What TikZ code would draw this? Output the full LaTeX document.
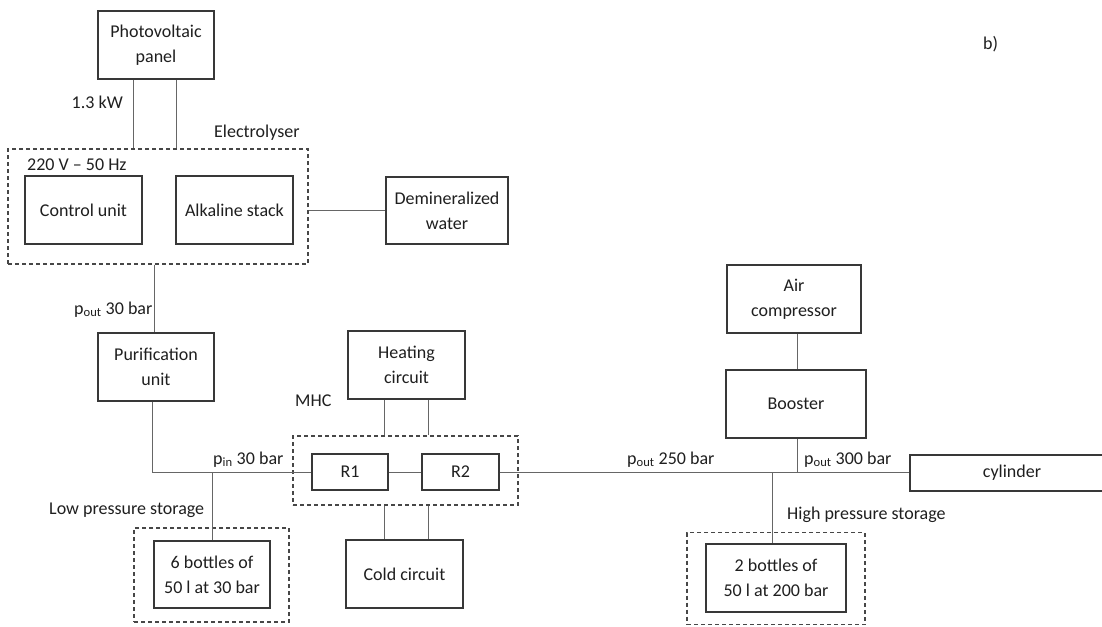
\documentclass[tikz,border=0pt]{standalone}
\usepackage{fontspec}
\setmainfont{Carlito}
\begin{document}
\begin{tikzpicture}[x=1pt,y=-1pt,
  font=\fontsize{18}{25}\selectfont,
  txt/.style={text=black!88},
  unit/.style={draw=black!78,line width=1.2pt,rectangle,align=center,inner sep=2pt,txt},
  group/.style={draw=black!72,line width=1.2pt,dash pattern=on 4pt off 3pt,rectangle,inner sep=0pt},
  pipe/.style={draw=black!60,line width=0.9pt},
  lbl/.style={inner sep=0pt,txt}]
\useasboundingbox (0,0) rectangle (1102,626);
\clip (0,0) rectangle (1102,626);
\fill[white] (0,0) rectangle (1102,626);

% units
\node[unit,minimum width=116,minimum height=68] (pv) at (156,45) {Photovoltaic\\panel};
\node[group,minimum width=300,minimum height=115] (elec) at (158,206.5) {};
\node[unit,minimum width=117,minimum height=68] (ctrl) at (83.5,210) {Control unit};
\node[unit,minimum width=117,minimum height=68] (alk) at (234.5,210) {Alkaline stack};
\node[unit,minimum width=122,minimum height=67] (demin) at (447,210.5) {Demineralized\\water};
\node[unit,minimum width=116,minimum height=68] (pur) at (156,367) {Purification\\unit};
\node[unit,minimum width=117,minimum height=68] (heat) at (406.5,365) {Heating\\circuit};
\node[group,minimum width=225,minimum height=69] (mhc) at (405.5,470.5) {};
\node[unit,minimum width=76,minimum height=36] (r1) at (350,472) {R1};
\node[unit,minimum width=77,minimum height=36] (r2) at (460.5,472) {R2};
\node[unit,minimum width=117,minimum height=68] (cold) at (404.5,574) {Cold circuit};
\node[group,minimum width=155,minimum height=94] (low) at (211.5,575) {};
\node[unit,minimum width=116,minimum height=67] (six) at (212,574.5) {6 bottles of\\50 l at 30 bar};
\node[unit,minimum width=134,minimum height=68] (air) at (794,299) {Air\\compressor};
\node[unit,minimum width=140,minimum height=68] (boost) at (796,404) {Booster};
\node[unit,minimum width=204,minimum height=36] (cyl) at (1012,473) {cylinder};
\node[group,minimum width=178,minimum height=92] (high) at (776,578.5) {};
\node[unit,minimum width=140,minimum height=68] (two) at (776,578) {2 bottles of\\50 l at 200 bar};

% connections
\draw[pipe] ([xshift=-23pt]pv.south) -- ([xshift=-23pt]pv.south |- elec.north);
\draw[pipe] ([xshift=20pt]pv.south) -- ([xshift=20pt]pv.south |- elec.north);
\draw[pipe] (elec.east |- demin.west) -- (demin.west);
\draw[pipe] ([xshift=-2pt]pur.north |- elec.south) -- ([xshift=-2pt]pur.north);
\draw[pipe] ([xshift=-4pt]pur.south) |- (r1.west);
\draw[pipe] (six.north |- r1.west) -- (six.north);
\draw[pipe] (r1.east) -- (r2.west);
\draw[pipe] ([xshift=-22pt]heat.south) -- ([xshift=-22pt]heat.south |- mhc.north);
\draw[pipe] ([xshift=21.5pt]heat.south) -- ([xshift=21.5pt]heat.south |- mhc.north);
\draw[pipe] ([xshift=-22pt]heat.south |- mhc.south) -- ([xshift=-22pt]heat.south |- cold.north);
\draw[pipe] ([xshift=21.5pt]heat.south |- mhc.south) -- ([xshift=21.5pt]heat.south |- cold.north);
\draw[pipe] (r2.east) -- (r2.east -| cyl.west);
\draw[pipe] ([xshift=1pt]boost.north) -- ([xshift=1pt]boost.north |- air.south);
\draw[pipe] ([xshift=1pt]boost.south) -- ([xshift=1pt]boost.south |- r2.east);
\draw[pipe] ([xshift=-4pt]two.north |- r2.east) -- ([xshift=-4pt]two.north);

% labels
\node[lbl,anchor=base east] (lkw) at (123,108) {1.3 kW};
\node[lbl,anchor=base west] (lel) at (214,137) {Electrolyser};
\node[lbl,anchor=base west] (lac) at (27,170) {220 V – 50 Hz};
\node[lbl,anchor=base west] (lp1) at (74,314) {p\textsubscript{out} 30 bar};
\node[lbl,anchor=base west] (lp2) at (213,464) {p\textsubscript{in} 30 bar};
\node[lbl,anchor=base west] (llow) at (49,514) {Low pressure storage};
\node[lbl,anchor=base west] (lmhc) at (295,406) {MHC};
\node[lbl,anchor=base west] (lp3) at (627,464) {p\textsubscript{out} 250 bar};
\node[lbl,anchor=base west] (lp4) at (804,464) {p\textsubscript{out} 300 bar};
\node[lbl,anchor=base west] (lhigh) at (787,519) {High pressure storage};
\node[lbl,anchor=base west] (lb) at (983,50) {b)};
\end{tikzpicture}
\end{document}
